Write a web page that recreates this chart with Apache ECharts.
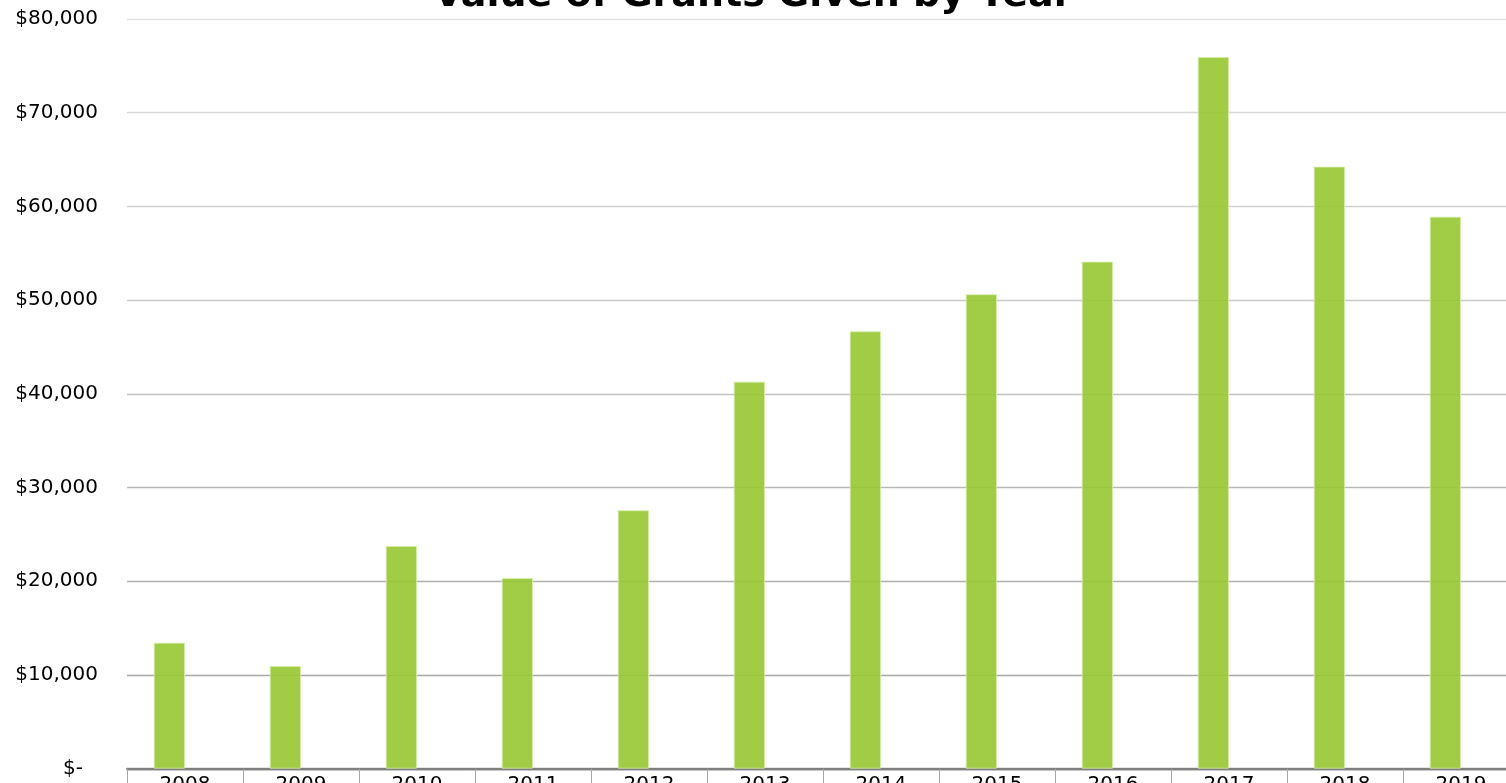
<!DOCTYPE html>
<html>
<head>
<meta charset="utf-8">
<script src="https://cdn.jsdelivr.net/npm/echarts@6/dist/echarts.min.js"></script>
<style>
html,body{margin:0;padding:0;background:#fff;}
#chart{width:1506px;height:783px;}
</style>
</head>
<body>
<div id="chart"></div>
<script>
var titleText = 'Value of Grants Given by Year';
var years = ['2008','2009','2010','2011','2012','2013','2014','2015','2016','2017','2018','2019'];
var grants = [13450, 10950, 23770, 20350, 27580, 41300, 46680, 50630, 54110, 75950, 64250, 58910];
var emptySeries = [];
var yTicks = [0, 10000, 20000, 30000, 40000, 50000, 60000, 70000, 80000];

var chart = echarts.init(document.getElementById('chart'));
var FONT = 'DejaVu Sans';
chart.setOption({
  animation: false,
  backgroundColor: '#ffffff',
  title: {
    text: titleText,
    left: 'center',
    top: -28,
    padding: [5, 0, 5, 14],
    textStyle: { fontFamily: FONT, fontSize: 38, fontWeight: 'bold', color: '#000' }
  },
  grid: { left: 127, right: -13, top: 19, bottom: 14.3, containLabel: false, outerBoundsMode: 'none' },
  xAxis: [{
    type: 'category',
    data: years,
    axisLine: { show: true, lineStyle: { color: '#7f7f7f', width: 2 } },
    axisTick: { show: true, alignWithLabel: false, length: 24, lineStyle: { color: '#a6a6a6', width: 1 } },
    axisLabel: { margin: 6, fontFamily: FONT, fontSize: 20, color: '#000' },
    splitLine: { show: false }
  }, {
    type: 'category',
    data: years,
    position: 'bottom',
    offset: 2,
    axisLine: { show: true, lineStyle: { color: '#c8c8c8', width: 1 } },
    axisTick: { show: false },
    axisLabel: { show: false }
  }],
  yAxis: {
    type: 'value',
    min: yTicks[0],
    max: yTicks[yTicks.length - 1],
    interval: 10000,
    axisLine: { show: false },
    axisTick: { show: false },
    axisLabel: {
      margin: 29,
      fontFamily: FONT, fontSize: 20, color: '#000',
      formatter: function (v) {
        if (v === 0) return '{z|$-}';
        return '$' + v.toLocaleString('en-US');
      },
      rich: { z: { fontFamily: FONT, fontSize: 20, color: '#000', padding: [0, 15, 0, 0] } }
    },
    splitLine: {
      show: true,
      lineStyle: {
        width: 1.3,
        color: ['#999999', '#a8a8a8', '#b0b0b0', '#b8b8b8', '#c2c2c2', '#c9c9c9', '#d0d0d0', '#d8d8d8', '#e2e2e2']
      }
    }
  },
  series: [{
    type: 'bar',
    data: grants,
    barWidth: 31.3,
    barGap: '0%',
    itemStyle: {
      color: 'rgb(150,198,50)',
      opacity: 0.9,
      borderColor: 'rgba(214,236,170,0.9)',
      borderWidth: 1
    }
  }, {
    type: 'bar',
    data: emptySeries,
    barWidth: 31.3,
    barGap: '0%'
  }]
});
</script>
</body>
</html>
